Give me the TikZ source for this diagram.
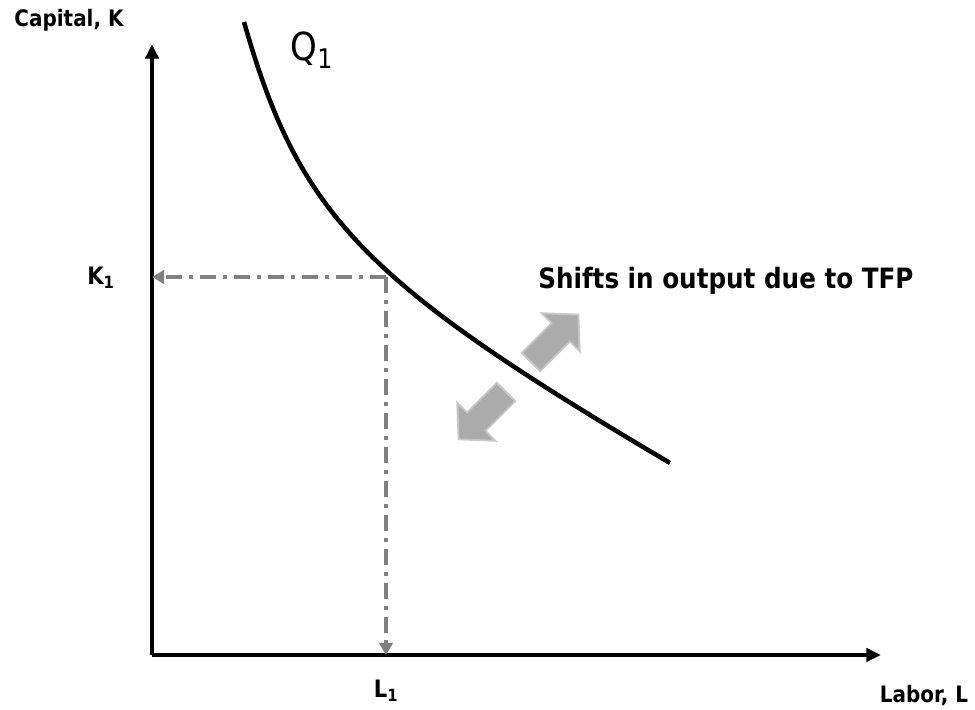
\documentclass[tikz,border=0pt]{standalone}
\usepackage{fontspec}
\setmainfont{DejaVu Sans}[FakeStretch=0.88]
\usetikzlibrary{arrows.meta}
\definecolor{dashgray}{HTML}{808080}
\definecolor{blockgray}{HTML}{ABABAB}
\definecolor{blockedge}{HTML}{C8C8C8}
\tikzset{
  axisline/.style={line width=2.6pt,-{Triangle[length=11pt,width=10pt]}},
  isoquant/.style={line width=3.4pt},
  guide/.style={draw=dashgray,line width=2.5pt,dash pattern=on 12pt off 5pt on 3.5pt off 5pt,-{Triangle[length=9pt,width=10pt]},color=dashgray},
  blockarrow/.style={fill=blockgray,draw=blockedge,line width=1.4pt},
  axlabel/.style={font=\bfseries\fontsize{17}{20}\selectfont,inner sep=0pt},
  ticklabel/.style={font=\bfseries\fontsize{18}{21}\selectfont,inner sep=0pt},
}
\begin{document}
\begin{tikzpicture}[x=0.75pt,y=0.75pt]
\useasboundingbox (0,0) rectangle (975,710);
\coordinate (O) at (152,55);
\coordinate (Ytop) at (152,666);
\coordinate (Xend) at (881,55);
\draw[axisline] (O) -- (Ytop);
\draw[axisline] (O) -- (Xend);
% isoquant
\coordinate (Qs) at (244,688);
\coordinate (Qe) at (670,247);
\draw[isoquant] (Qs) .. controls (299.4,494.2) and (363.2,428) .. (Qe);
% point on curve and guides
\coordinate (P) at (386,433);
\coordinate (Kax) at (152,433);
\coordinate (Lax) at (386,55);
\draw[guide] (P) -- (Kax);
\draw[guide] (P) -- (Lax);
% labels
\node[axlabel] (caplab) at (69,690) {Capital, K};
\node[axlabel] (lablab) at (924,14) {Labor, L};
\node[ticklabel] (k1) at (101,432) {K\textsubscript{1}};
\node[ticklabel] (l1) at (386,19) {L\textsubscript{1}};
\node[font=\fontsize{29}{34}\selectfont,inner sep=0pt] (q1) at (312,660) {Q\textsubscript{1}};
\node[font=\bfseries\fontsize{21}{25}\selectfont,inner sep=0pt,anchor=west] (shift) at (538,429) {Shifts in output due to TFP};
% block arrows
\begin{scope}[shift={(531,348)},rotate=45]
\draw[blockarrow] (0,-13) -- (42,-13) -- (42,-27) -- (67,0) -- (42,27) -- (42,13) -- (0,13) -- cycle;
\end{scope}
\begin{scope}[shift={(506,318)},rotate=225]
\draw[blockarrow] (0,-13) -- (42,-13) -- (42,-27) -- (67,0) -- (42,27) -- (42,13) -- (0,13) -- cycle;
\end{scope}
\end{tikzpicture}
\end{document}
